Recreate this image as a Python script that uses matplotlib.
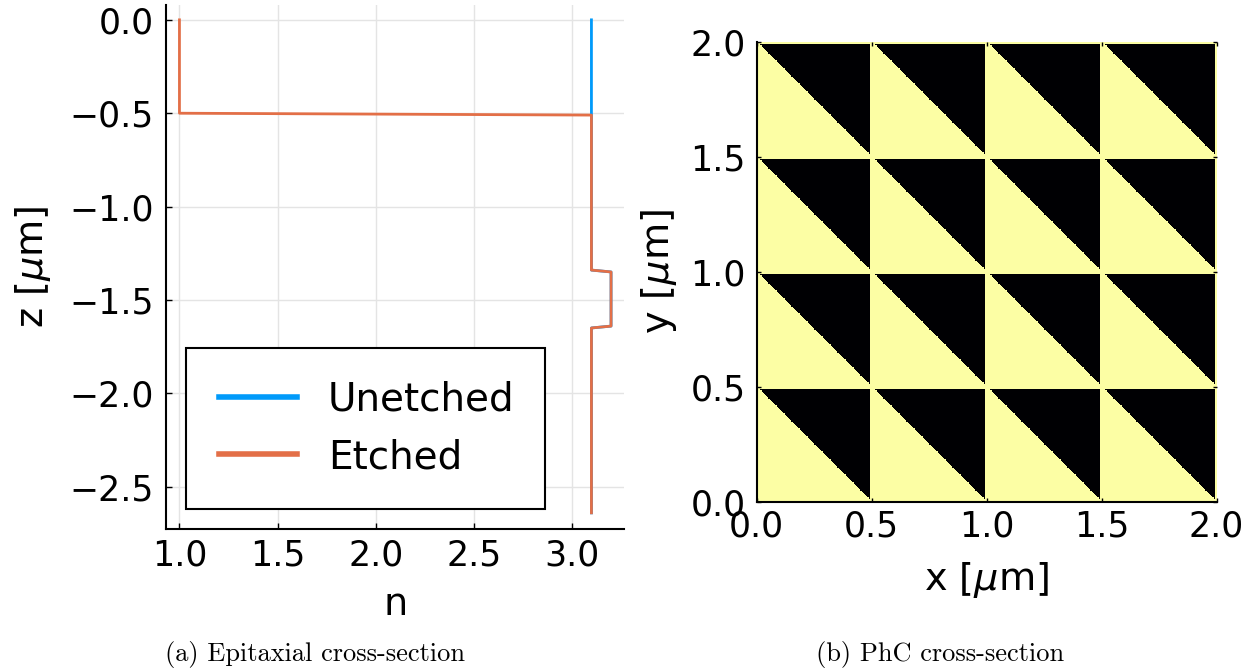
import numpy as np
import matplotlib
matplotlib.use('Agg')
import matplotlib.pyplot as plt

# refractive index profile (z in um, n)
z_unetched = [0.0, -0.50, -0.51, -1.34, -1.35, -1.64, -1.65, -2.64]
n_unetched = [3.1, 3.10, 3.10, 3.10, 3.20, 3.20, 3.10, 3.10]
z_etched = [0.0, -0.50, -0.51, -1.34, -1.35, -1.64, -1.65, -2.64]
n_etched = [1.0, 1.00, 3.10, 3.10, 3.20, 3.20, 3.10, 3.10]
series_labels = ['Unetched', 'Etched']

# photonic crystal: square lattice of right-triangle holes
lattice = 0.5      # um
n_cells = 4
ticks_phc = [0.0, 0.5, 1.0, 1.5, 2.0]

blue = '#009AFA'
orange = '#E36F47'
plt.rcParams['mathtext.fontset'] = 'dejavusans'

fig = plt.figure(figsize=(12.53, 6.68), dpi=100)
W, H = 1253, 668

# ---- (a) epitaxial cross-section
ax1 = fig.add_axes([166.5 / W, 1 - 529 / H, (624 - 166.5) / W, (529 - 5) / H])
ax1.plot(n_unetched, z_unetched, color=blue, lw=2, label=series_labels[0])
ax1.plot(n_etched, z_etched, color=orange, lw=2, label=series_labels[1])
ax1.set_xlim(0.934, 3.266)
ax1.set_ylim(-2.7265, 0.0795)
ax1.set_xticks([1.0, 1.5, 2.0, 2.5, 3.0])
ax1.set_yticks([0.0, -0.5, -1.0, -1.5, -2.0, -2.5])
ax1.grid(True, color='#e4e4e4', lw=1)
ax1.set_axisbelow(True)
for s in ['top', 'right']:
    ax1.spines[s].set_visible(False)
for s in ['left', 'bottom']:
    ax1.spines[s].set_linewidth(1.5)
ax1.tick_params(direction='in', length=4, width=1, labelsize=25)
ax1.tick_params(axis='y', pad=9)
ax1.tick_params(axis='x', pad=7)
ax1.set_xlabel('n', fontsize=27.5, labelpad=10)
ax1.set_ylabel(r'z [$\mu$m]', fontsize=27.5, labelpad=12)

leg = ax1.legend(loc='lower left', bbox_to_anchor=(0.0426, 0.038, 0.785, 0.3),
                 mode='expand', borderaxespad=0, fontsize=28, fancybox=False,
                 edgecolor='black', framealpha=1, handlelength=2.0,
                 handletextpad=0.8, labelspacing=0.5, borderpad=0.85)
leg.get_frame().set_linewidth(1.5)
for line in leg.get_lines():
    line.set_linewidth(4)

# ---- (b) PhC cross-section
res = 100  # pixels per cell
u = (np.arange(res) + 0.5) / res
uu, vv = np.meshgrid(u, u)
cell = np.ones((res, res))
cell[(uu + vv > 1.0) & (uu < 0.98) & (vv < 0.98)] = 0.0
img = np.tile(cell, (n_cells, n_cells))

ax2 = fig.add_axes([756.5 / W, 1 - 501.7 / H, 460 / W, 459.7 / H])
ax2.imshow(img, cmap='inferno', vmin=0, vmax=1, origin='lower',
           extent=[0, n_cells * lattice, 0, n_cells * lattice],
           interpolation='nearest', aspect='auto')
ax2.set_xlim(0, 2)
ax2.set_ylim(0, 2)
ax2.set_xticks(ticks_phc)
ax2.set_yticks(ticks_phc)
for s in ['top', 'right']:
    ax2.spines[s].set_visible(False)
for s in ['left', 'bottom']:
    ax2.spines[s].set_linewidth(1.5)
ax2.tick_params(direction='in', length=3, width=1, labelsize=25,
                top=True, right=True)
ax2.tick_params(axis='y', pad=8)
ax2.tick_params(axis='x', pad=5.5)
ax2.set_xlabel(r'x [$\mu$m]', fontsize=27.5, labelpad=12)
ax2.set_ylabel(r'y [$\mu$m]', fontsize=27.5, labelpad=8)

# captions
fig.text(315 / W, 1 - 655 / H, '(a) Epitaxial cross-section', family='cmr10',
         fontsize=19, ha='center', va='center')
fig.text(940 / W, 1 - 655 / H, '(b) PhC cross-section', family='cmr10',
         fontsize=19, ha='center', va='center')

fig.savefig('out.png', dpi=100)
